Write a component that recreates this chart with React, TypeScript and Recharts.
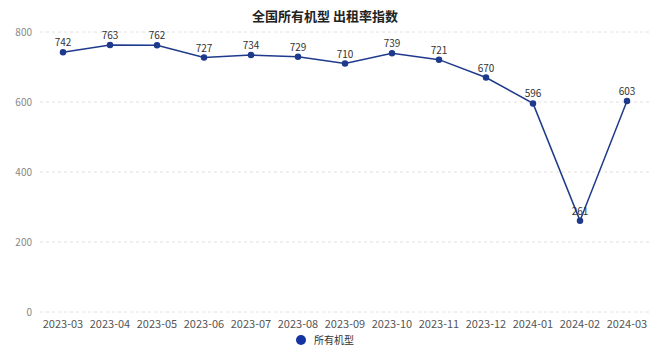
import React from 'react';
import { LineChart, Line, XAxis, YAxis, CartesianGrid, Legend, LabelList } from 'recharts';

const months = [
  '2023-03', '2023-04', '2023-05', '2023-06', '2023-07', '2023-08', '2023-09',
  '2023-10', '2023-11', '2023-12', '2024-01', '2024-02', '2024-03',
];
const values = [742, 763, 762, 727, 734, 729, 710, 739, 721, 670, 596, 261, 603];
const yTicks = [0, 200, 400, 600, 800];
const seriesName = '所有机型';
const title = '全国所有机型 出租率指数';

const data = months.map((m, i) => ({ month: m, value: values[i] }));

const FONT = '"Noto Sans CJK SC", "Noto Sans", sans-serif';
const LINE = '#1e3a8c';

const LegendBox = () => (
  <div style={{ display: 'flex', justifyContent: 'center', alignItems: 'center', fontSize: 10, color: '#333', fontFamily: FONT }}>
    <span style={{ width: 10, height: 10, borderRadius: 5, background: '#1434a4', display: 'inline-block', marginRight: 8 }} />
    {seriesName}
  </div>
);

const App: React.FC = () => {
  return (
    <div style={{ position: 'absolute', left: 0, top: 0, width: 650, height: 349, background: '#fff', fontFamily: FONT }}>
      <div style={{ position: 'absolute', top: 6, left: 0, width: 650, textAlign: 'center', fontSize: 13, fontWeight: 700, color: '#222' }}>
        {title}
      </div>
      <LineChart width={650} height={349} data={data} margin={{ top: 32, right: 0, bottom: 0, left: 0 }}>
        <CartesianGrid vertical={false} stroke="#e0e0e0" strokeDasharray="3 3" />
        <XAxis
          dataKey="month"
          axisLine={false}
          tickLine={false}
          height={20}
          padding={{ left: 23, right: 23 }}
          tick={{ fontSize: 11, fill: '#555' }}
          interval={0}
        />
        <YAxis
          domain={[0, 800]}
          ticks={yTicks}
          axisLine={false}
          tickLine={false}
          width={40}
          tick={{ fontSize: 10, fill: '#888' }}
        />
        <Legend verticalAlign="bottom" height={17} content={<LegendBox />} />
        <Line
          type="linear"
          dataKey="value"
          name={seriesName}
          stroke={LINE}
          strokeWidth={1.5}
          dot={{ r: 2.5, fill: LINE, stroke: LINE }}
          isAnimationActive={false}
        >
          <LabelList dataKey="value" position="top" offset={6} style={{ fontSize: 10, fill: '#333' }} />
        </Line>
      </LineChart>
    </div>
  );
};

export default App;
